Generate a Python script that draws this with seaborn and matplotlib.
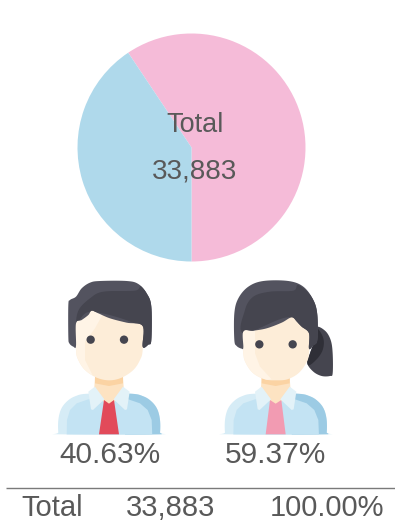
import numpy as np
import matplotlib
matplotlib.use("Agg")
import matplotlib.pyplot as plt
from matplotlib.patches import Polygon, Circle
import seaborn as sns

genders = ["Female", "Male"]
shares = [59.37, 40.63]
share_labels = ["40.63%", "59.37%"]
total_label = "33,883"
pie_colors = ["#F5BBD8", "#AFD9EB"]

sns.set_theme(style="white")
plt.rcParams["font.family"] = ["Liberation Sans", "DejaVu Sans"]
TXT = "#595959"

W, H = 395, 522
fig = plt.figure(figsize=(W / 100, H / 100), dpi=100)

# pie
R, CX, CY = 114, 191.5, 147.5
ax = fig.add_axes([(CX - R) / W, 1 - (CY + R) / H, 2 * R / W, 2 * R / H])
ax.pie(shares, colors=pie_colors, startangle=-90, counterclock=True, radius=1,
       wedgeprops=dict(linewidth=0))
ax.set_xlim(-1, 1); ax.set_ylim(-1, 1)
ax.axis("off")

# overlay in pixel coordinates
ov = fig.add_axes([0, 0, 1, 1])
ov.set_xlim(0, W); ov.set_ylim(H, 0); ov.axis("off")
ov.patch.set_alpha(0)


def spline(pts, n=10):
    p = np.asarray(pts, float)
    out = []
    N = len(p)
    for i in range(N):
        p0, p1, p2, p3 = p[i - 1], p[i], p[(i + 1) % N], p[(i + 2) % N]
        for t in np.linspace(0, 1, n, endpoint=False):
            out.append(0.5 * (2 * p1 + (p2 - p0) * t + (2 * p0 - 5 * p1 + 4 * p2 - p3) * t ** 2
                              + (3 * p1 - p0 - 3 * p2 + p3) * t ** 3))
    return np.array(out)


def shape(pts, color, ox, oy, smooth=True, clip=None, z=3):
    arr = spline(pts) if smooth else np.asarray(pts, float)
    poly = Polygon(arr / 3 + [ox, oy], closed=True, fc=color, ec="none", zorder=z)
    ov.add_patch(poly)
    if clip is not None:
        poly.set_clip_path(clip)
    return poly


def torso(ox, oy, x0, tie, tw, tt):
    """x0 = left edge of the shoulders in crop units; torso is 305 wide."""
    P = lambda pts: [(x0 + a, b) for a, b in pts]
    o = shape(P([(0, 487), (0, 450), (8, 418), (25, 395), (50, 379), (90, 371), (215, 371), (255, 379),
                 (280, 395), (297, 418), (305, 450), (305, 487), (299, 493), (6, 493)]), "#D6ECF6", ox, oy)
    shape(P([(205, 360), (250, 370), (285, 390), (310, 440), (310, 500), (200, 500)]),
          "#9CCBE4", ox, oy, smooth=False, clip=o)
    shape(P([(25, 500), (26, 450), (35, 420), (55, 400), (90, 388), (210, 388), (245, 400),
             (268, 420), (280, 450), (282, 500)]), "#C3E3F3", ox, oy, smooth=False, clip=o)
    cx = x0 + 152
    # neck and chest
    shape([(cx - 42, 320), (cx + 42, 320), (cx + 44, 352), (cx + 56, 372), (cx, 404), (cx - 56, 372), (cx - 44, 352)],
          "#FDE3C2", ox, oy, smooth=False)
    shape([(cx - 42, 320), (cx + 42, 320), (cx + 42, 340), (cx, 348), (cx - 42, 340)],
          "#FBD3A3", ox, oy, smooth=False)
    # tie
    shape([(cx - tt, 390), (cx, 401), (cx + tt, 390), (cx + tw, 493), (cx - tw, 493)], tie, ox, oy, smooth=False)
    # collar
    shape([(cx - 42, 350), (cx - 62, 365), (cx - 54, 418), (cx - 48, 420), (cx - 14, 388)],
          "#E3F2F8", ox, oy, smooth=False)
    shape([(cx + 42, 350), (cx + 62, 365), (cx + 54, 418), (cx + 48, 420), (cx + 14, 388)],
          "#E3F2F8", ox, oy, smooth=False)


def eyes(ox, oy, xa, xb, y):
    for x in (xa, xb):
        ov.add_patch(Circle((x / 3 + ox, y / 3 + oy), 12.5 / 3, fc="#45454F", ec="none", zorder=6))


# man
ox, oy = 40, 270
torso(ox, oy, 55, "#E24A5A", 30, 15)
face = shape([(108, 160), (108, 240), (115, 270), (135, 300), (170, 323), (208, 331), (245, 323), (280, 300),
              (300, 270), (308, 240), (308, 160), (250, 110), (160, 105)], "#FDEDD8", ox, oy, z=4)
shape([(100, 290), (108, 150), (160, 120), (190, 130), (165, 175), (135, 215), (135, 270), (160, 320)],
      "#FFF4E6", ox, oy, smooth=False, clip=face, z=4)
hair = shape([(100, 230), (88, 220), (85, 200), (85, 105), (90, 90), (108, 80), (125, 55), (150, 38), (180, 33),
              (260, 33), (295, 42), (320, 70), (334, 110), (334, 210), (325, 224), (308, 230), (308, 168),
              (260, 158), (210, 145), (175, 130), (155, 122), (145, 135), (125, 150), (108, 160), (108, 228)],
             "#53535F", ox, oy, z=5)
shape([(112, 160), (116, 120), (150, 85), (190, 65), (285, 62), (305, 50), (340, 110), (340, 240), (300, 240),
       (300, 170), (155, 125)], "#45454F", ox, oy, clip=hair, z=5)
eyes(ox, oy, 152, 252, 209)

# woman
ox, oy = 210, 270
pony = shape([(318, 172), (345, 182), (362, 210), (368, 250), (368, 310), (360, 318), (335, 318), (310, 305),
              (292, 280), (300, 250), (310, 220)], "#45454F", ox, oy, z=2)
shape([(300, 170), (320, 172), (340, 205), (338, 240), (318, 270), (292, 285), (280, 240)],
      "#2F2F37", ox, oy, clip=pony, z=2)
torso(ox, oy, 45, "#F29BB2", 30, 17)
face = shape([(100, 180), (100, 250), (108, 280), (130, 310), (165, 328), (198, 331), (232, 328), (265, 310),
              (288, 280), (297, 250), (297, 180), (250, 130), (150, 130)], "#FDEDD8", ox, oy, z=4)
shape([(90, 180), (135, 180), (135, 250), (150, 290), (185, 328), (90, 340)],
      "#FFF4E6", ox, oy, smooth=False, clip=face, z=4)
hair = shape([(95, 236), (80, 228), (73, 210), (73, 130), (85, 85), (115, 50), (160, 33), (235, 33), (280, 50),
              (310, 90), (322, 135), (322, 210), (310, 226), (297, 236), (297, 190), (275, 170), (260, 155),
              (245, 142), (215, 158), (170, 175), (130, 182), (100, 184), (100, 232)],
             "#53535F", ox, oy, z=5)
shape([(102, 190), (105, 120), (130, 80), (180, 65), (250, 62), (265, 45), (305, 80), (330, 135), (330, 240),
       (290, 240), (245, 142)], "#45454F", ox, oy, clip=hair, z=5)
eyes(ox, oy, 148, 248, 223)


# text
def txt(x, y, s, size):
    ov.text(x, y, s, fontsize=size, color=TXT, ha="center", va="center", zorder=8)


txt(195, 125, "Total", 19.5)
txt(194.5, 172, total_label, 20)
txt(110.5, 455, share_labels[0], 21.5)
txt(275.5, 455, share_labels[1], 21.5)
ov.plot([6, 395], [487.5, 487.5], color="#7A7A7A", lw=1, solid_capstyle="butt", zorder=8)
txt(52.5, 508.5, "Total", 21)
txt(171, 508.5, total_label, 21)
txt(327, 508.5, "100.00%", 21)

fig.savefig("out.png", dpi=100, facecolor="white")
